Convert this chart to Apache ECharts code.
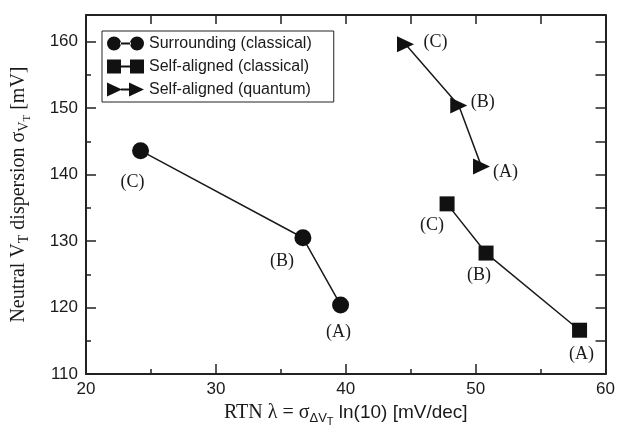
<!DOCTYPE html>
<html>
<head>
<meta charset="utf-8">
<script src="https://cdn.jsdelivr.net/npm/echarts@6/dist/echarts.min.js"></script>
<style>
  html, body { margin: 0; padding: 0; background: #fff; }
  #chart { width: 618px; height: 432px; }
</style>
</head>
<body>
<div id="chart"></div>
<script>
// point labels, same order in every series
const pointNames = ["(A)", "(B)", "(C)"];

// Surrounding (classical)
const surroundX = [39.6, 36.7, 24.2];
const surroundY = [120.4, 130.5, 143.6];

// Self-aligned (classical)
const alignedX = [58.0, 50.8, 47.8];
const alignedY = [116.6, 128.2, 135.6];

// Self-aligned (quantum)
const quantumX = [50.45, 48.7, 44.6];
const quantumY = [141.2, 150.4, 159.6];

const serif = "'Liberation Serif', 'DejaVu Serif', serif";
const sans = "'Liberation Sans', Arial, sans-serif";
const ink = "#1a1a1a";

// legend icons: two marks joined by a line
const iconCircle = "path://M0,7a7,7 0 1,0 14,0a7,7 0 1,0 -14,0Z M13,6H24V8H13Z M23,7a7,7 0 1,0 14,0a7,7 0 1,0 -14,0Z";
const iconSquare = "path://M0,0H14V14H0Z M14,6H23V8H14Z M23,0H37V14H23Z";
const iconTri = "path://M0,0L15,7L0,14Z M14,6H23V8H14Z M22,0L37,7L22,14Z";

function pts(xs, ys, offsets) {
  return xs.map((x, i) => ({
    value: [x, ys[i]],
    name: pointNames[i],
    label: { offset: offsets[i] }
  }));
}

function series(name, xs, ys, symbol, size, offsets) {
  return {
    name: name,
    type: "line",
    xAxisIndex: 0,
    yAxisIndex: 0,
    data: pts(xs, ys, offsets),
    symbol: symbol,
    symbolSize: size,
    showAllSymbol: true,
    lineStyle: { color: ink, width: 1.5 },
    itemStyle: { color: "#111" },
    label: {
      show: true,
      position: "inside",
      formatter: p => p.name,
      fontFamily: serif,
      fontSize: 18,
      color: ink
    },
    emphasis: { disabled: true },
    z: 3
  };
}

const frame = { show: true, lineStyle: { color: "#222", width: 2 } };
const noLabel = { show: false };

const chart = echarts.init(document.getElementById("chart"), null, { renderer: "canvas" });
chart.setOption({
  animation: false,
  backgroundColor: "#fff",
  grid: { left: 86, right: 12, top: 15, bottom: 53, containLabel: false },
  legend: {
    orient: "vertical",
    left: 102,
    top: 31,
    padding: [4, 22, 4, 5],
    itemGap: 6,
    itemWidth: 37,
    itemHeight: 14,
    borderColor: "#222",
    borderWidth: 1,
    backgroundColor: "#fff",
    textStyle: { fontFamily: sans, fontSize: 16, color: ink, lineHeight: 17 },
    data: [
      { name: "Surrounding (classical)", icon: iconCircle },
      { name: "Self-aligned (classical)", icon: iconSquare },
      { name: "Self-aligned (quantum)", icon: iconTri }
    ]
  },
  xAxis: [
    {
      type: "value", position: "bottom", min: 20, max: 60, interval: 10,
      axisLine: frame,
      axisTick: { show: true, inside: true, length: 10, lineStyle: { color: "#222", width: 1.5 } },
      axisLabel: { fontFamily: sans, fontSize: 17, color: ink, margin: 7 },
      splitLine: { show: false },
      name: "{s|RTN λ = σ}{sub|ΔV}{ss|T}{a| ln(10) [mV/dec]}",
      nameLocation: "middle",
      nameGap: 22,
      nameTextStyle: {
        rich: {
          s: { fontFamily: serif, fontSize: 20, color: ink },
          sub: { fontFamily: sans, fontSize: 13, color: ink, padding: [10, 0, 0, 0] },
          ss: { fontFamily: sans, fontSize: 11, color: ink, padding: [17, 0, 0, 0] },
          a: { fontFamily: sans, fontSize: 19, color: ink }
        }
      }
    },
    {
      type: "value", position: "bottom", min: 20, max: 60, interval: 5,
      axisLine: { show: false },
      axisTick: { show: true, inside: true, length: 5, lineStyle: { color: "#222", width: 1.5 } },
      axisLabel: noLabel, splitLine: { show: false }
    },
    {
      type: "value", position: "top", min: 20, max: 60, interval: 5,
      axisLine: frame,
      axisTick: { show: true, inside: true, length: 9, lineStyle: { color: "#222", width: 1.5 } },
      axisLabel: noLabel, splitLine: { show: false }
    }
  ],
  yAxis: [
    {
      type: "value", position: "left", min: 110, max: 164, interval: 10,
      axisLine: frame,
      axisTick: { show: true, inside: true, length: 10, lineStyle: { color: "#222", width: 1.5 } },
      axisLabel: {
        fontFamily: sans, fontSize: 17, color: ink, margin: 8,
        formatter: v => (v % 10 === 0 ? String(v) : "")
      },
      splitLine: { show: false },
      name: "{s|Neutral V}{sub|T}{s| dispersion σ}{sub|V}{ss|T}{s| [mV]}",
      nameLocation: "middle",
      nameRotate: 90,
      nameGap: 53,
      nameTextStyle: {
        rich: {
          s: { fontFamily: serif, fontSize: 20, color: ink },
          sub: { fontFamily: serif, fontSize: 14, color: ink, padding: [10, 0, 0, 0] },
          ss: { fontFamily: serif, fontSize: 11, color: ink, padding: [17, 0, 0, 0] }
        }
      }
    },
    {
      type: "value", position: "left", min: 110, max: 164, interval: 5,
      axisLine: { show: false },
      axisTick: { show: true, inside: true, length: 5, lineStyle: { color: "#222", width: 1.5 } },
      axisLabel: noLabel, splitLine: { show: false }
    },
    {
      type: "value", position: "right", min: 110, max: 164, interval: 5,
      axisLine: frame,
      axisTick: { show: true, inside: true, length: 10, lineStyle: { color: "#222", width: 1.5 } },
      axisLabel: noLabel, splitLine: { show: false }
    }
  ],
  series: [
    series("Surrounding (classical)", surroundX, surroundY, "circle", 17,
      [[-2, 27], [-21, 23], [-8, 32]]),
    series("Self-aligned (classical)", alignedX, alignedY, "rect", 15,
      [[2, 24], [-7, 22], [-15, 21]]),
    series("Self-aligned (quantum)", quantumX, quantumY, "path://M0,0L15,7L0,14Z", [17, 16],
      [[24, 6], [24, -3], [30, -2]])
  ]
});
</script>
</body>
</html>
